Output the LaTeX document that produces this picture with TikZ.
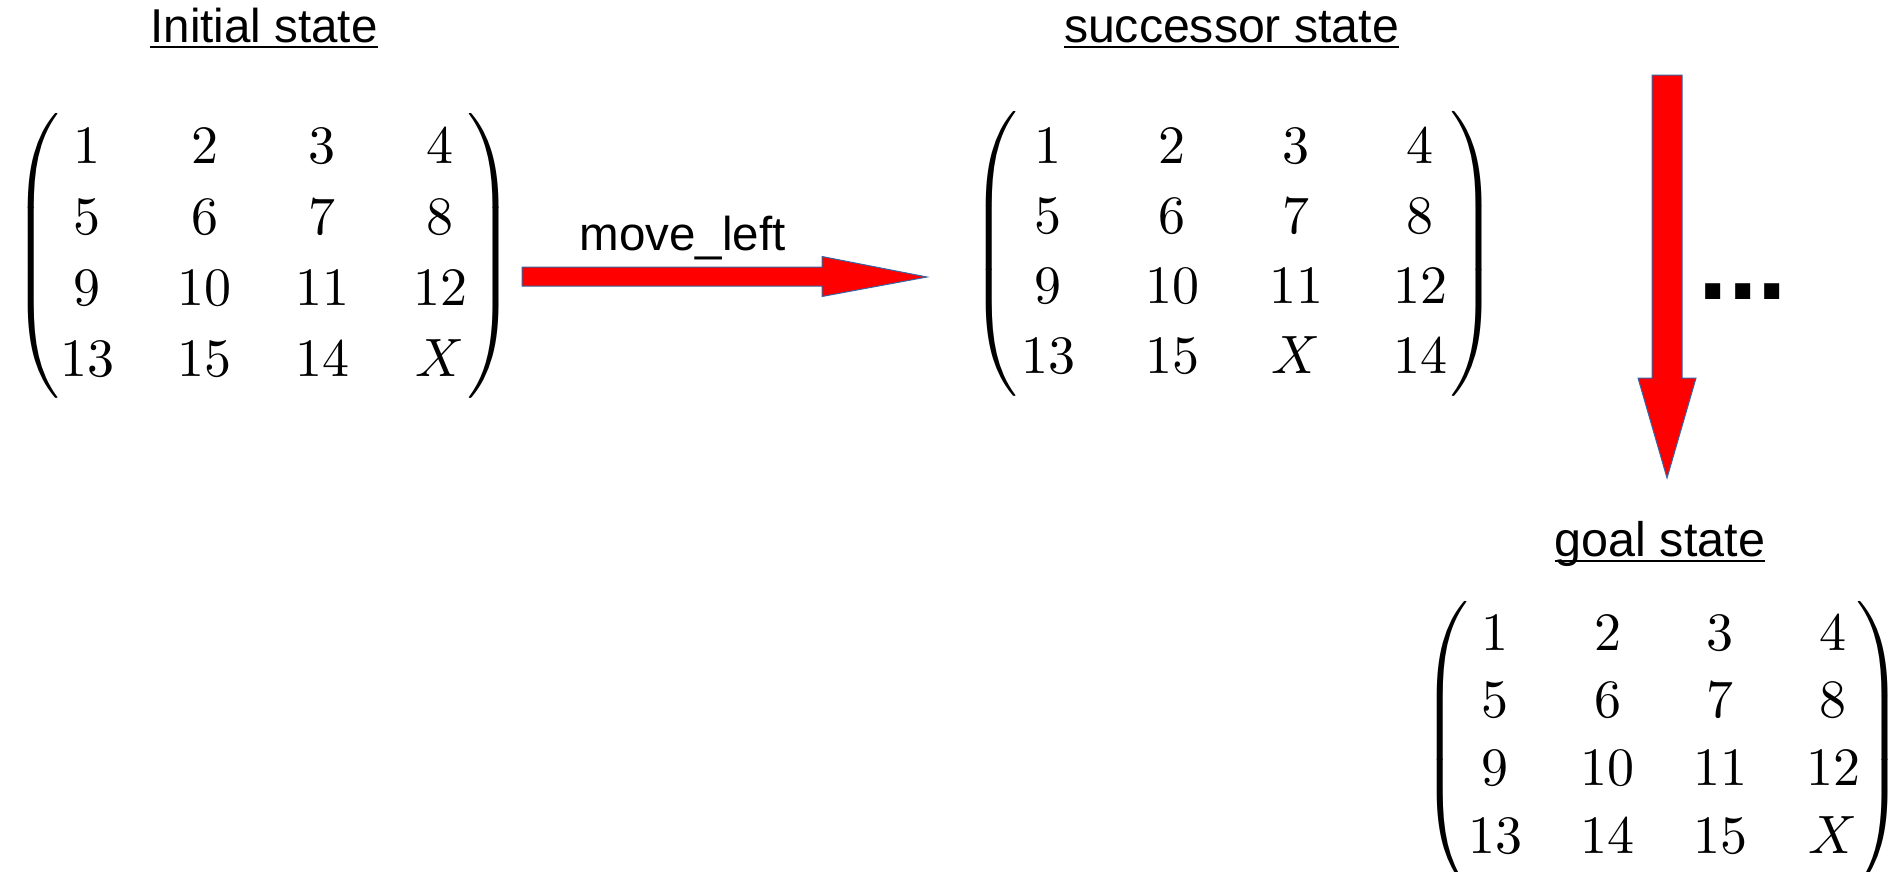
\documentclass[tikz,border=0pt]{standalone}
\usepackage[no-math]{fontspec}
\newfontfamily\lsans{Liberation Sans}
\usetikzlibrary{calc}
\definecolor{arrowred}{RGB}{255,0,0}
\definecolor{arrowedge}{RGB}{52,101,164}

% 4x4 puzzle board: #1 name, #2/#3 first baseline position, #4/#5 column/row pitch, #6 entries
\newcommand{\puzzlegrid}[6]{%
  \foreach \v [count=\i from 0] in {#6} {
    \pgfmathtruncatemacro{\rr}{int(\i/4)}
    \pgfmathtruncatemacro{\cc}{mod(\i,4)}
    \node[cell] (#1-\i) at ({#2+\cc*#4},{#3+\rr*#5}) {$\v$};
  }%
}
\newcommand{\lparen}{$\left(\vcenter{\hbox{\rule{0pt}{54pt}}}\right.$}
\newcommand{\rparen}{$\left.\vcenter{\hbox{\rule{0pt}{54pt}}}\right)$}

\begin{document}
\begin{tikzpicture}[x=1pt,y=-1pt,
  cell/.style={anchor=base, inner sep=0pt, scale=5.4},
  paren/.style={inner sep=0pt, xscale=5.4, yscale=5.28},
  title/.style={anchor=base, inner sep=0pt, font=\lsans\fontsize{#1}{56}\selectfont},
  title/.default=47.5,
  uline/.style={line width=2.6pt},
  blockarrow/.style={fill=arrowred, draw=arrowedge, line width=1pt, line join=miter}]

\useasboundingbox (0,0) rectangle (1894,871);

% titles
\node[title] (t0) at (264,42) {Initial state};
\node[title=48.2] (t1) at (1231.5,42) {successor state};
\node[title=48.5] (t2) at (1660,556) {goal state};
\foreach \t in {t0,t1,t2}
  \draw[uline] ([yshift=-5pt]\t.base west) -- ([yshift=-5pt]\t.base east);

% initial board
\puzzlegrid{m0}{87}{163}{117.7}{71.3}{1,2,3,4,5,6,7,8,9,10,11,12,13,15,14,X}
\node[paren] (m0l) at (39,255.5) {\lparen};
\node[paren] (m0r) at (487.5,255.5) {\rparen};

% successor board
\puzzlegrid{m1}{1048}{163}{124}{70}{1,2,3,4,5,6,7,8,9,10,11,12,13,15,X,14}
\node[paren] (m1l) at (997,254) {\lparen};
\node[paren] (m1r) at (1471,254) {\rparen};

% goal board
\puzzlegrid{m2}{1495}{650}{112.7}{67.7}{1,2,3,4,5,6,7,8,9,10,11,12,13,14,15,X}
\node[paren] (m2l) at (1448,744) {\lparen};
\node[paren] (m2r) at (1877,744) {\rparen};

% move label and continuation dots
\node[title] (lbl) at (682.5,250) {move\_left};
\node[anchor=base, inner sep=0pt, font=\lsans\bfseries\fontsize{106}{120}\selectfont] (dots) at (1743,299) {...};

% block arrows
\coordinate (a1s) at (522,276.5);
\coordinate (a1t) at (927,277);
\coordinate (a2s) at (1667,75);
\coordinate (a2t) at (1667,478);

\draw[blockarrow] let \p1=(a1s), \p2=(a1t) in
  (\x1,\y1+9.5pt) -- (\x2-105pt,\y1+9.5pt) -- (\x2-105pt,\y1+20pt) -- (\x2,\y2)
  -- (\x2-105pt,\y1-20pt) -- (\x2-105pt,\y1-9.5pt) -- (\x1,\y1-9.5pt) -- cycle;

\draw[blockarrow] let \p1=(a2s), \p2=(a2t) in
  (\x1-15pt,\y1) -- (\x1-15pt,\y2+100pt) -- (\x1-29pt,\y2+100pt) -- (\x2,\y2)
  -- (\x1+29pt,\y2+100pt) -- (\x1+15pt,\y2+100pt) -- (\x1+15pt,\y1) -- cycle;

\end{tikzpicture}
\end{document}
